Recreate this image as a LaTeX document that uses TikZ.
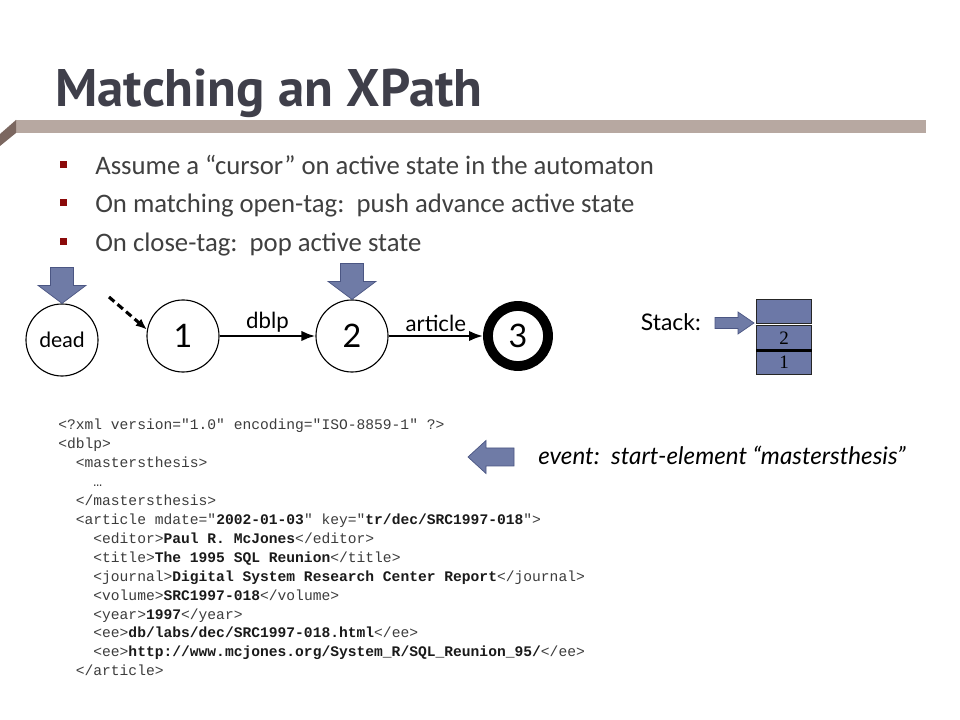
\documentclass[tikz,border=0pt]{standalone}
\usepackage{fontspec}
\setmainfont{Carlito}
\setmonofont{Liberation Mono}
\newfontfamily\gillfont{Lato}
\newfontfamily\titlefont{PT Sans}
\newfontfamily\stackfont{Liberation Serif}
\usepackage{xcolor}
\usepackage{tikz}
\usetikzlibrary{positioning,arrows.meta}

\definecolor{titlegray}{HTML}{3F3F4A}
\definecolor{bodygray}{HTML}{404040}
\definecolor{barbrown}{HTML}{B7A8A1}
\definecolor{bardark}{HTML}{7B6760}
\definecolor{bulletred}{HTML}{8B0A0A}
\definecolor{ptrblue}{HTML}{6F7BA6}
\definecolor{ptredge}{HTML}{4B5683}
\definecolor{stackblue}{HTML}{6C78A7}
\definecolor{codegray}{HTML}{3C3C3C}
\definecolor{codedark}{HTML}{1A1A1A}

\newcommand{\val}[1]{\textbf{\color{codedark}#1}}
\newcommand{\tabA}{\phantom{xx}}
\newcommand{\tabB}{\phantom{xxxx}}

\begin{document}
\begin{tikzpicture}[x=0.025cm,y=-0.025cm,
  state/.style={circle,draw,line width=0.8pt,minimum size=1.8cm,inner sep=0pt,
    font=\gillfont\fontsize{23}{26}\selectfont},
  finalstate/.style={line width=7pt,minimum size=1.5cm},
  edge/.style={-{Latex[length=10pt,width=7.5pt]},line width=1.8pt},
  initedge/.style={-{Latex[length=8pt,width=6.5pt]},line width=2.2pt,dash pattern=on 5pt off 3pt},
  edgelabel/.style={above,inner sep=2pt,font=\gillfont\fontsize{15.8}{18}\selectfont},
  ptr/.style={fill=ptrblue,draw=ptredge,line width=0.5pt},
  stackcell/.style={rectangle,draw=black!85,line width=0.6pt,fill=stackblue,
    minimum width=1.375cm,minimum height=0.6cm,inner sep=0pt,
    font=\stackfont\fontsize{13.5}{14}\selectfont},
  bullettext/.style={anchor=base west,inner sep=0pt,text=bodygray,
    font=\fontsize{19}{22}\selectfont},
  code/.style={anchor=north west,inner sep=0pt,align=left,text=codegray,
    font=\ttfamily\fontsize{10.4}{13.45}\selectfont}]
  \fill[white] (0,0) rectangle (960,720);
  \useasboundingbox (0,0) rectangle (960,720);

  % title and bar
  \node[anchor=base west,inner sep=0pt,text=titlegray,
    font=\titlefont\bfseries\fontsize{37.6}{42}\selectfont] (title) at (55,107) {Matching an XPath};
  \fill[barbrown] (16,120) rectangle (926,133);
  \fill[bardark] (16,120) -- (16,133) -- (0,146) -- (0,134) -- cycle;

  % bullets
  \fill[bulletred] (60,161) rectangle (67,168);
  \fill[bulletred] (60,199) rectangle (67,206);
  \fill[bulletred] (60,238) rectangle (67,245);
  \node[bullettext] (b1) at (95,175) {Assume a “cursor” on active state in the automaton};
  \node[bullettext] (b2) at (95,213) {On matching open-tag:\ \ push advance active state};
  \node[bullettext] (b3) at (95,252) {On close-tag:\ \ pop active state};

  % automaton
  \node[state,font=\gillfont\fontsize{15}{18}\selectfont] (dead) at (62,340) {dead};
  \node[state] (s1) at (183,336) {1};
  \node[state] (s2) at (352,336) {2};
  \node[state,finalstate] (s3) at (518,336) {3};
  \coordinate (init) at (109,297);
  \draw[initedge] (init) -- (s1.170);
  \draw[edge] (s1) -- node[edgelabel] {dblp} (s2);
  \draw[edge] (s2) -- node[edgelabel] {article} (s3);

  % cursors
  \filldraw[ptr] (dead.north) -- ++(-24,-18) -- ++(12.5,0) -- ++(0,-18) -- ++(23,0)
    -- ++(0,18) -- ++(12.5,0) -- cycle;
  \filldraw[ptr] (s2.north) -- ++(-24,-18) -- ++(12.5,0) -- ++(0,-18) -- ++(23,0)
    -- ++(0,18) -- ++(12.5,0) -- cycle;

  % stack
  \node[stackcell] (stk3) at (784,311) {};
  \node[stackcell,below=0.05cm of stk3] (stk2) {2};
  \node[stackcell,below=0pt of stk2] (stk1) {1};
  \draw[line width=2.2pt] (stk2.south west) -- (stk2.south east);
  \node[anchor=east,inner sep=0pt,font=\gillfont\fontsize{16.3}{19}\selectfont] (stacklabel) at (701,322) {Stack:};
  \filldraw[ptr] (754,323) -- ++(-16,-11) -- ++(0,5.5) -- ++(-23,0) -- ++(0,11)
    -- ++(23,0) -- ++(0,5.5) -- cycle;

  % event
  \filldraw[ptr] (468,457) -- ++(18,-16.5) -- ++(0,7.5) -- ++(28,0) -- ++(0,18)
    -- ++(-28,0) -- ++(0,7.5) -- cycle;
  \node[anchor=west,inner sep=0pt,font=\gillfont\itshape\fontsize{17.2}{20}\selectfont] (event) at (538,455)
    {event:\ \ start-element “mastersthesis”};

  % document
  \node[code] (xml) at (58,419) {%
<?xml version="1.0" encoding="ISO-8859-1" ?>\\
<dblp>\\
\tabA<mastersthesis>\\
\tabB…\\
\tabA</mastersthesis>\\
\tabA<article mdate="\val{2002-01-03}" key="\val{tr/dec/SRC1997-018}">\\
\tabB<editor>\val{Paul R.\ McJones}</editor>\\
\tabB<title>\val{The 1995 SQL Reunion}</title>\\
\tabB<journal>\val{Digital System Research Center Report}</journal>\\
\tabB<volume>\val{SRC1997-018}</volume>\\
\tabB<year>\val{1997}</year>\\
\tabB<ee>\val{db/labs/dec/SRC1997-018.html}</ee>\\
\tabB<ee>\val{http://www.mcjones.org/System\_R/SQL\_Reunion\_95/}</ee>\\
\tabA</article>};
\end{tikzpicture}
\end{document}
